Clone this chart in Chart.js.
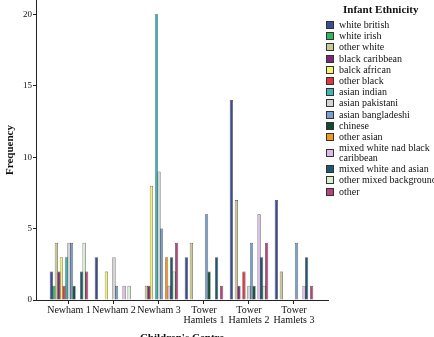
<!DOCTYPE html>
<html>
<head>
<meta charset="utf-8">
<script src="https://cdn.jsdelivr.net/npm/chart.js@4.4.1/dist/chart.umd.min.js"></script>
<style>
  html, body { margin: 0; padding: 0; background: #fff; overflow: hidden; }
  #wrap { position: relative; width: 434px; height: 337px; }
  #legend { position: absolute; left: 326px; top: 0; font-family: "Liberation Serif", serif; color: #111; }
  #legend .ttl { position: absolute; left: 17px; top: 3px; font-weight: bold; font-size: 11px; white-space: nowrap; }
  #legend ul { list-style: none; margin: 0; padding: 0; position: absolute; top: 20px; left: 0; }
  #legend li { display: flex; align-items: center; font-size: 10px; line-height: 10px; margin-bottom: 1.2px; white-space: nowrap; }
  #legend li span.box { display: inline-block; width: 6px; height: 6px; border: 1px solid #333; margin-right: 5px; flex: none; }
</style>
</head>
<body>
<div id="wrap">
  <canvas id="ethnicityChart" width="434" height="337"></canvas>
  <div id="legend"><div class="ttl">Infant Ethnicity</div><ul id="legend_items"></ul></div>
</div>
<script>
var centres = [["Newham 1"], ["Newham 2"], ["Newham 3"], ["Tower", "Hamlets 1"], ["Tower", "Hamlets 2"], ["Tower", "Hamlets 3"]];

var ethnicities = ["white british", "white irish", "other white", "black caribbean", "balck african",
  "other black", "asian indian", "asian pakistani", "asian bangladeshi", "chinese", "other asian",
  "mixed white nad black caribbean", "mixed white and asian", "other mixed background", "other"];

var colours = ["#3b4c97", "#2fb65a", "#cbc993", "#7b2877", "#f6f26f", "#e2363c", "#3db5b4", "#d3d3d3",
  "#7b9fcb", "#0d4a2f", "#f29722", "#dcbbe9", "#1c5870", "#d5f0d3", "#b1457c"];

// frequency per centre, one array per ethnicity
var white_british    = [2, 3, 0, 3, 14, 7];
var white_irish      = [1, 0, 0, 0, 0, 0];
var other_white      = [4, 0, 1, 4, 7, 2];
var black_caribbean  = [2, 0, 1, 0, 1, 0];
var black_african    = [3, 2, 8, 0, 0, 0];
var other_black      = [1, 0, 0, 0, 2, 0];
var asian_indian     = [3, 0, 20, 0, 0, 0];
var asian_pakistani  = [4, 3, 9, 0, 1, 0];
var asian_bangla     = [4, 1, 5, 6, 4, 4];
var chinese          = [1, 0, 0, 2, 1, 0];
var other_asian      = [0, 0, 3, 0, 0, 0];
var mixed_wb_carib   = [0, 1, 1, 0, 6, 1];
var mixed_w_asian    = [2, 0, 3, 3, 3, 3];
var other_mixed      = [4, 1, 2, 0, 1, 0];
var other            = [2, 0, 4, 1, 4, 1];

var yTicks = [0, 5, 10, 15, 20];

(function() {
  var series = [white_british, white_irish, other_white, black_caribbean, black_african, other_black,
    asian_indian, asian_pakistani, asian_bangla, chinese, other_asian, mixed_wb_carib, mixed_w_asian,
    other_mixed, other];

  var font = "'Liberation Serif', 'Times New Roman', serif";

  var datasets = series.map(function(values, i) {
    return {
      label: ethnicities[i],
      data: values.map(function(v, j) { return { x: j, y: v }; }),
      backgroundColor: colours[i],
      borderColor: "rgba(30,30,30,0.8)",
      borderWidth: 0.7,
      categoryPercentage: 0.84,
      barPercentage: 1.3
    };
  });

  new Chart(document.getElementById("ethnicityChart").getContext("2d"), {
    type: "bar",
    data: { datasets: datasets },
    options: {
      responsive: false,
      animation: false,
      layout: { padding: { left: 0, right: 106, top: 0, bottom: 0 } },
      plugins: { legend: { display: false }, tooltip: { enabled: false } },
      scales: {
        x: {
          type: "linear",
          offset: false,
          min: -0.733,
          max: 5.756,
          afterBuildTicks: function(scale) {
            scale.ticks = centres.map(function(c, i) { return { value: i }; });
          },
          afterFit: function(scale) {
            scale.height = 37;
            scale.paddingLeft = 0;
            scale.paddingRight = 0;
          },
          ticks: {
            color: "#111",
            font: { family: font, size: 10, lineHeight: 0.95 },
            padding: 2,
            maxRotation: 0,
            autoSkip: false,
            callback: function(value) { return centres[value]; }
          },
          grid: { drawOnChartArea: false, drawTicks: true, tickLength: 4, color: "#222", offset: false },
          border: { display: true, color: "#222", width: 1 },
          title: {
            display: true,
            text: "Children's Centre",
            color: "#111",
            font: { family: font, size: 11, weight: "bold" },
            padding: { top: 0, bottom: -8 }
          }
        },
        y: {
          min: 0,
          max: 21,
          afterBuildTicks: function(scale) {
            scale.ticks = yTicks.map(function(v) { return { value: v }; });
          },
          afterFit: function(scale) {
            scale.width = 36;
            scale.paddingTop = 0;
            scale.paddingBottom = 0;
          },
          ticks: { color: "#111", font: { family: font, size: 9 }, padding: 1 },
          grid: { drawOnChartArea: false, drawTicks: true, tickLength: 3, color: "#222" },
          border: { display: true, color: "#222", width: 1 },
          title: {
            display: true,
            text: "Frequency",
            color: "#111",
            font: { family: font, size: 11, weight: "bold" },
            padding: { top: 4, bottom: 0 }
          }
        }
      }
    }
  });

  var list = document.getElementById("legend_items");
  ethnicities.forEach(function(name, i) {
    var text = name;
    if (name.length > 24) {
      var cut = name.lastIndexOf(" ", 22);
      text = name.slice(0, cut) + "<br>" + name.slice(cut + 1);
    }
    var li = document.createElement("li");
    li.innerHTML = '<span class="box" style="background:' + colours[i] + '"></span><span>' + text + "</span>";
    list.appendChild(li);
  });
})();
</script>
</body>
</html>
